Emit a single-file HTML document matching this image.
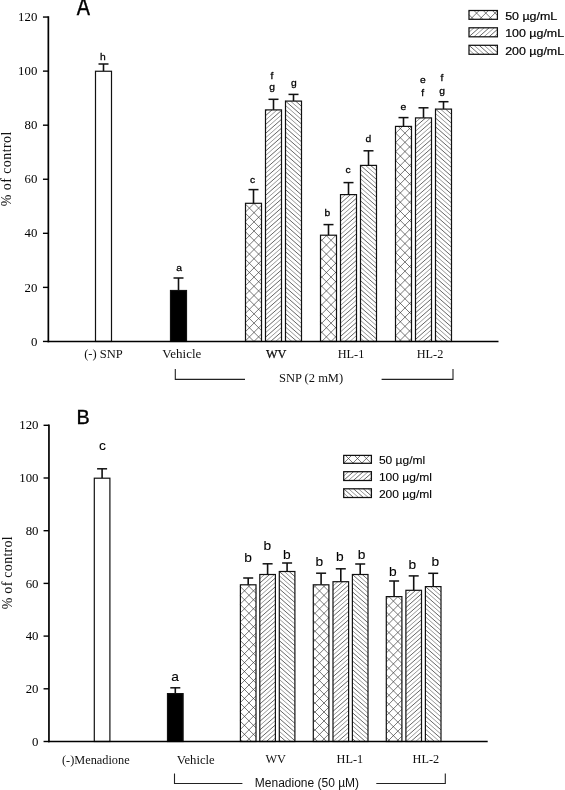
<!DOCTYPE html>
<html lang="en"><head><meta charset="utf-8"><title>Figure</title>
<style>
html,body{margin:0;padding:0;background:#fff;}
body{width:565px;height:790px;overflow:hidden;}
svg{display:block;}
text{white-space:pre;}
</style></head><body>
<svg width="565" height="790" viewBox="0 0 565 790">
<rect width="565" height="790" fill="#fff"/>

<line x1="103.50" y1="71.25" x2="103.50" y2="64.00" stroke="#111" stroke-width="1.6"/>
<line x1="98.50" y1="64.00" x2="108.50" y2="64.00" stroke="#111" stroke-width="1.5"/>
<rect x="95.50" y="71.25" width="16.00" height="270.20" fill="#fff" stroke="#111" stroke-width="1.2"/>
<text transform="translate(102.80,59.50) scale(1.03,0.9)" font-family='"Liberation Sans", Arial, Helvetica, sans-serif' font-size="10" text-anchor="middle" fill="#000" stroke="#000" stroke-width="0.28">h</text>
<line x1="178.50" y1="290.50" x2="178.50" y2="278.00" stroke="#111" stroke-width="1.6"/>
<line x1="173.50" y1="278.00" x2="183.50" y2="278.00" stroke="#111" stroke-width="1.5"/>
<rect x="170.50" y="290.50" width="16.00" height="50.95" fill="#000" stroke="#111" stroke-width="1.2"/>
<text transform="translate(179.00,270.80) scale(1.03,0.9)" font-family='"Liberation Sans", Arial, Helvetica, sans-serif' font-size="10" text-anchor="middle" fill="#000" stroke="#000" stroke-width="0.28">a</text>
<line x1="253.50" y1="203.30" x2="253.50" y2="189.60" stroke="#111" stroke-width="1.6"/>
<line x1="248.50" y1="189.60" x2="258.50" y2="189.60" stroke="#111" stroke-width="1.5"/>
<rect x="245.50" y="203.30" width="16.00" height="138.15" fill="#fff"/>
<path d="M245.5,212.0L254.2,203.3M245.5,221.2L261.5,205.2M245.5,230.4L261.5,214.4M245.5,239.6L261.5,223.6M245.5,248.8L261.5,232.8M245.5,258.0L261.5,242.0M245.5,267.2L261.5,251.2M245.5,276.4L261.5,260.4M245.5,285.6L261.5,269.6M245.5,294.8L261.5,278.8M245.5,304.0L261.5,288.0M245.5,313.2L261.5,297.2M245.5,322.4L261.5,306.4M245.5,331.6L261.5,315.6M245.5,340.8L261.5,324.8M254.0,341.4L261.5,334.0M253.8,203.3L261.5,211.0M245.5,204.2L261.5,220.2M245.5,213.4L261.5,229.4M245.5,222.6L261.5,238.6M245.5,231.8L261.5,247.8M245.5,241.0L261.5,257.0M245.5,250.2L261.5,266.2M245.5,259.4L261.5,275.4M245.5,268.6L261.5,284.6M245.5,277.8L261.5,293.8M245.5,287.0L261.5,303.0M245.5,296.2L261.5,312.2M245.5,305.4L261.5,321.4M245.5,314.6L261.5,330.6M245.5,323.8L261.5,339.8M245.5,333.0L253.9,341.4" stroke="#333" stroke-width="0.66" fill="none"/>
<rect x="245.50" y="203.30" width="16.00" height="138.15" fill="none" stroke="#111" stroke-width="1.2"/>
<text transform="translate(252.50,182.50) scale(1.03,0.9)" font-family='"Liberation Sans", Arial, Helvetica, sans-serif' font-size="10" text-anchor="middle" fill="#000" stroke="#000" stroke-width="0.28">c</text>
<line x1="273.50" y1="109.90" x2="273.50" y2="99.30" stroke="#111" stroke-width="1.6"/>
<line x1="268.50" y1="99.30" x2="278.50" y2="99.30" stroke="#111" stroke-width="1.5"/>
<rect x="265.50" y="109.90" width="16.00" height="231.55" fill="#fff"/>
<path d="M265.5,115.7L272.0,109.9M265.5,124.5L281.5,110.4M265.5,133.4L281.5,119.3M265.5,142.2L281.5,128.2M265.5,151.1L281.5,137.0M265.5,160.0L281.5,145.9M265.5,168.8L281.5,154.7M265.5,177.7L281.5,163.6M265.5,186.5L281.5,172.5M265.5,195.4L281.5,181.3M265.5,204.3L281.5,190.2M265.5,213.1L281.5,199.0M265.5,222.0L281.5,207.9M265.5,230.8L281.5,216.8M265.5,239.7L281.5,225.6M265.5,248.6L281.5,234.5M265.5,257.4L281.5,243.3M265.5,266.3L281.5,252.2M265.5,275.1L281.5,261.1M265.5,284.0L281.5,269.9M265.5,292.9L281.5,278.8M265.5,301.7L281.5,287.6M265.5,310.6L281.5,296.5M265.5,319.4L281.5,305.4M265.5,328.3L281.5,314.2M265.5,337.2L281.5,323.1M270.7,341.4L281.5,331.9M280.8,341.4L281.5,340.8" stroke="#1a1a1a" stroke-width="0.68" fill="none"/>
<path d="M265.5,111.2L267.0,109.9M265.5,120.1L277.1,109.9M265.5,128.9L281.5,114.9M265.5,137.8L281.5,123.7M265.5,146.7L281.5,132.6M265.5,155.5L281.5,141.4M265.5,164.4L281.5,150.3M265.5,173.2L281.5,159.2M265.5,182.1L281.5,168.0M265.5,191.0L281.5,176.9M265.5,199.8L281.5,185.7M265.5,208.7L281.5,194.6M265.5,217.5L281.5,203.5M265.5,226.4L281.5,212.3M265.5,235.3L281.5,221.2M265.5,244.1L281.5,230.0M265.5,253.0L281.5,238.9M265.5,261.8L281.5,247.8M265.5,270.7L281.5,256.6M265.5,279.6L281.5,265.5M265.5,288.4L281.5,274.3M265.5,297.3L281.5,283.2M265.5,306.1L281.5,292.1M265.5,315.0L281.5,300.9M265.5,323.9L281.5,309.8M265.5,332.7L281.5,318.6M265.7,341.4L281.5,327.5M275.7,341.4L281.5,336.4" stroke="#666" stroke-width="0.66" fill="none"/>
<rect x="265.50" y="109.90" width="16.00" height="231.55" fill="none" stroke="#111" stroke-width="1.2"/>
<text transform="translate(272.00,78.60) scale(1.03,0.9)" font-family='"Liberation Sans", Arial, Helvetica, sans-serif' font-size="10" text-anchor="middle" fill="#000" stroke="#000" stroke-width="0.28">f</text>
<text transform="translate(272.00,90.20) scale(1.03,0.9)" font-family='"Liberation Sans", Arial, Helvetica, sans-serif' font-size="10" text-anchor="middle" fill="#000" stroke="#000" stroke-width="0.28">g</text>
<line x1="293.50" y1="101.10" x2="293.50" y2="94.40" stroke="#111" stroke-width="1.6"/>
<line x1="288.50" y1="94.40" x2="298.50" y2="94.40" stroke="#111" stroke-width="1.5"/>
<rect x="285.50" y="101.10" width="16.00" height="240.35" fill="#fff"/>
<path d="M295.6,101.1L301.5,106.3M285.5,101.1L301.5,115.2M285.5,110.0L301.5,124.0M285.5,118.8L301.5,132.9M285.5,127.7L301.5,141.8M285.5,136.5L301.5,150.6M285.5,145.4L301.5,159.5M285.5,154.3L301.5,168.3M285.5,163.1L301.5,177.2M285.5,172.0L301.5,186.1M285.5,180.8L301.5,194.9M285.5,189.7L301.5,203.8M285.5,198.6L301.5,212.6M285.5,207.4L301.5,221.5M285.5,216.3L301.5,230.4M285.5,225.1L301.5,239.2M285.5,234.0L301.5,248.1M285.5,242.9L301.5,256.9M285.5,251.7L301.5,265.8M285.5,260.6L301.5,274.7M285.5,269.4L301.5,283.5M285.5,278.3L301.5,292.4M285.5,287.2L301.5,301.2M285.5,296.0L301.5,310.1M285.5,304.9L301.5,319.0M285.5,313.7L301.5,327.8M285.5,322.6L301.5,336.7M285.5,331.5L296.9,341.4M285.5,340.3L286.8,341.4" stroke="#1a1a1a" stroke-width="0.68" fill="none"/>
<path d="M300.6,101.1L301.5,101.9M290.5,101.1L301.5,110.7M285.5,105.5L301.5,119.6M285.5,114.4L301.5,128.5M285.5,123.2L301.5,137.3M285.5,132.1L301.5,146.2M285.5,141.0L301.5,155.0M285.5,149.8L301.5,163.9M285.5,158.7L301.5,172.8M285.5,167.5L301.5,181.6M285.5,176.4L301.5,190.5M285.5,185.3L301.5,199.3M285.5,194.1L301.5,208.2M285.5,203.0L301.5,217.1M285.5,211.8L301.5,225.9M285.5,220.7L301.5,234.8M285.5,229.6L301.5,243.6M285.5,238.4L301.5,252.5M285.5,247.3L301.5,261.4M285.5,256.1L301.5,270.2M285.5,265.0L301.5,279.1M285.5,273.9L301.5,287.9M285.5,282.7L301.5,296.8M285.5,291.6L301.5,305.7M285.5,300.4L301.5,314.5M285.5,309.3L301.5,323.4M285.5,318.2L301.5,332.2M285.5,327.0L301.5,341.1M285.5,335.9L291.8,341.4" stroke="#666" stroke-width="0.66" fill="none"/>
<rect x="285.50" y="101.10" width="16.00" height="240.35" fill="none" stroke="#111" stroke-width="1.2"/>
<text transform="translate(293.80,86.00) scale(1.03,0.9)" font-family='"Liberation Sans", Arial, Helvetica, sans-serif' font-size="10" text-anchor="middle" fill="#000" stroke="#000" stroke-width="0.28">g</text>
<line x1="328.50" y1="235.20" x2="328.50" y2="224.60" stroke="#111" stroke-width="1.6"/>
<line x1="323.50" y1="224.60" x2="333.50" y2="224.60" stroke="#111" stroke-width="1.5"/>
<rect x="320.50" y="235.20" width="16.00" height="106.25" fill="#fff"/>
<path d="M320.5,241.6L326.9,235.2M320.5,250.8L336.1,235.2M320.5,260.0L336.5,244.0M320.5,269.2L336.5,253.2M320.5,278.4L336.5,262.4M320.5,287.6L336.5,271.6M320.5,296.8L336.5,280.8M320.5,306.0L336.5,290.0M320.5,315.2L336.5,299.2M320.5,324.4L336.5,308.4M320.5,333.6L336.5,317.6M321.8,341.4L336.5,326.8M331.1,341.4L336.5,336.0M335.1,235.2L336.5,236.6M325.9,235.2L336.5,245.8M320.5,239.0L336.5,255.0M320.5,248.2L336.5,264.2M320.5,257.4L336.5,273.4M320.5,266.6L336.5,282.6M320.5,275.8L336.5,291.8M320.5,285.0L336.5,301.0M320.5,294.2L336.5,310.2M320.5,303.4L336.5,319.4M320.5,312.6L336.5,328.6M320.5,321.8L336.5,337.8M320.5,331.0L330.9,341.4M320.5,340.2L321.8,341.4" stroke="#333" stroke-width="0.66" fill="none"/>
<rect x="320.50" y="235.20" width="16.00" height="106.25" fill="none" stroke="#111" stroke-width="1.2"/>
<text transform="translate(327.30,215.80) scale(1.03,0.9)" font-family='"Liberation Sans", Arial, Helvetica, sans-serif' font-size="10" text-anchor="middle" fill="#000" stroke="#000" stroke-width="0.28">b</text>
<line x1="348.50" y1="194.60" x2="348.50" y2="182.60" stroke="#111" stroke-width="1.6"/>
<line x1="343.50" y1="182.60" x2="353.50" y2="182.60" stroke="#111" stroke-width="1.5"/>
<rect x="340.50" y="194.60" width="16.00" height="146.85" fill="#fff"/>
<path d="M340.5,203.5L350.6,194.6M340.5,212.3L356.5,198.2M340.5,221.2L356.5,207.1M340.5,230.0L356.5,216.0M340.5,238.9L356.5,224.8M340.5,247.8L356.5,233.7M340.5,256.6L356.5,242.5M340.5,265.5L356.5,251.4M340.5,274.3L356.5,260.3M340.5,283.2L356.5,269.1M340.5,292.1L356.5,278.0M340.5,300.9L356.5,286.8M340.5,309.8L356.5,295.7M340.5,318.6L356.5,304.6M340.5,327.5L356.5,313.4M340.5,336.4L356.5,322.3M344.8,341.5L356.5,331.1M354.9,341.5L356.5,340.0" stroke="#1a1a1a" stroke-width="0.68" fill="none"/>
<path d="M340.5,199.0L345.5,194.6M340.5,207.9L355.6,194.6M340.5,216.8L356.5,202.7M340.5,225.6L356.5,211.5M340.5,234.5L356.5,220.4M340.5,243.3L356.5,229.2M340.5,252.2L356.5,238.1M340.5,261.1L356.5,247.0M340.5,269.9L356.5,255.8M340.5,278.8L356.5,264.7M340.5,287.6L356.5,273.5M340.5,296.5L356.5,282.4M340.5,305.4L356.5,291.3M340.5,314.2L356.5,300.1M340.5,323.1L356.5,309.0M340.5,331.9L356.5,317.8M340.5,340.8L356.5,326.7M349.8,341.5L356.5,335.6" stroke="#666" stroke-width="0.66" fill="none"/>
<rect x="340.50" y="194.60" width="16.00" height="146.85" fill="none" stroke="#111" stroke-width="1.2"/>
<text transform="translate(348.00,172.80) scale(1.03,0.9)" font-family='"Liberation Sans", Arial, Helvetica, sans-serif' font-size="10" text-anchor="middle" fill="#000" stroke="#000" stroke-width="0.28">c</text>
<line x1="368.50" y1="165.40" x2="368.50" y2="150.80" stroke="#111" stroke-width="1.6"/>
<line x1="363.50" y1="150.80" x2="373.50" y2="150.80" stroke="#111" stroke-width="1.5"/>
<rect x="360.50" y="165.40" width="16.00" height="176.05" fill="#fff"/>
<path d="M370.6,165.4L376.5,170.6M360.5,165.4L376.5,179.5M360.5,174.3L376.5,188.3M360.5,183.1L376.5,197.2M360.5,192.0L376.5,206.1M360.5,200.8L376.5,214.9M360.5,209.7L376.5,223.8M360.5,218.6L376.5,232.6M360.5,227.4L376.5,241.5M360.5,236.3L376.5,250.4M360.5,245.1L376.5,259.2M360.5,254.0L376.5,268.1M360.5,262.9L376.5,276.9M360.5,271.7L376.5,285.8M360.5,280.6L376.5,294.7M360.5,289.4L376.5,303.5M360.5,298.3L376.5,312.4M360.5,307.2L376.5,321.2M360.5,316.0L376.5,330.1M360.5,324.9L376.5,339.0M360.5,333.7L369.3,341.5" stroke="#1a1a1a" stroke-width="0.68" fill="none"/>
<path d="M375.6,165.4L376.5,166.2M365.5,165.4L376.5,175.0M360.5,169.8L376.5,183.9M360.5,178.7L376.5,192.8M360.5,187.6L376.5,201.6M360.5,196.4L376.5,210.5M360.5,205.3L376.5,219.3M360.5,214.1L376.5,228.2M360.5,223.0L376.5,237.1M360.5,231.8L376.5,245.9M360.5,240.7L376.5,254.8M360.5,249.6L376.5,263.6M360.5,258.4L376.5,272.5M360.5,267.3L376.5,281.4M360.5,276.1L376.5,290.2M360.5,285.0L376.5,299.1M360.5,293.9L376.5,307.9M360.5,302.7L376.5,316.8M360.5,311.6L376.5,325.7M360.5,320.4L376.5,334.5M360.5,329.3L374.3,341.4M360.5,338.2L364.2,341.4" stroke="#666" stroke-width="0.66" fill="none"/>
<rect x="360.50" y="165.40" width="16.00" height="176.05" fill="none" stroke="#111" stroke-width="1.2"/>
<text transform="translate(368.40,141.50) scale(1.03,0.9)" font-family='"Liberation Sans", Arial, Helvetica, sans-serif' font-size="10" text-anchor="middle" fill="#000" stroke="#000" stroke-width="0.28">d</text>
<line x1="403.50" y1="126.40" x2="403.50" y2="117.60" stroke="#111" stroke-width="1.6"/>
<line x1="398.50" y1="117.60" x2="408.50" y2="117.60" stroke="#111" stroke-width="1.5"/>
<rect x="395.50" y="126.40" width="16.00" height="215.05" fill="#fff"/>
<path d="M395.5,133.4L402.5,126.4M395.5,142.6L411.5,126.6M395.5,151.8L411.5,135.8M395.5,161.0L411.5,145.0M395.5,170.2L411.5,154.2M395.5,179.4L411.5,163.4M395.5,188.6L411.5,172.6M395.5,197.8L411.5,181.8M395.5,207.0L411.5,191.0M395.5,216.2L411.5,200.2M395.5,225.4L411.5,209.4M395.5,234.6L411.5,218.6M395.5,243.8L411.5,227.8M395.5,253.0L411.5,237.0M395.5,262.2L411.5,246.2M395.5,271.4L411.5,255.4M395.5,280.6L411.5,264.6M395.5,289.8L411.5,273.8M395.5,299.0L411.5,283.0M395.5,308.2L411.5,292.2M395.5,317.4L411.5,301.4M395.5,326.6L411.5,310.6M395.5,335.8L411.5,319.8M399.1,341.4L411.5,329.0M408.3,341.4L411.5,338.2M407.4,126.4L411.5,130.5M398.2,126.4L411.5,139.7M395.5,132.9L411.5,148.9M395.5,142.1L411.5,158.1M395.5,151.3L411.5,167.3M395.5,160.5L411.5,176.5M395.5,169.7L411.5,185.7M395.5,178.9L411.5,194.9M395.5,188.1L411.5,204.1M395.5,197.3L411.5,213.3M395.5,206.5L411.5,222.5M395.5,215.7L411.5,231.7M395.5,224.9L411.5,240.9M395.5,234.1L411.5,250.1M395.5,243.3L411.5,259.3M395.5,252.5L411.5,268.5M395.5,261.7L411.5,277.7M395.5,270.9L411.5,286.9M395.5,280.1L411.5,296.1M395.5,289.3L411.5,305.3M395.5,298.5L411.5,314.5M395.5,307.7L411.5,323.7M395.5,316.9L411.5,332.9M395.5,326.1L410.9,341.4M395.5,335.3L401.7,341.4" stroke="#333" stroke-width="0.66" fill="none"/>
<rect x="395.50" y="126.40" width="16.00" height="215.05" fill="none" stroke="#111" stroke-width="1.2"/>
<text transform="translate(403.40,109.60) scale(1.03,0.9)" font-family='"Liberation Sans", Arial, Helvetica, sans-serif' font-size="10" text-anchor="middle" fill="#000" stroke="#000" stroke-width="0.28">e</text>
<line x1="423.50" y1="117.90" x2="423.50" y2="107.80" stroke="#111" stroke-width="1.6"/>
<line x1="418.50" y1="107.80" x2="428.50" y2="107.80" stroke="#111" stroke-width="1.5"/>
<rect x="415.50" y="117.90" width="16.00" height="223.55" fill="#fff"/>
<path d="M415.5,126.8L425.6,117.9M415.5,135.6L431.5,121.5M415.5,144.5L431.5,130.4M415.5,153.3L431.5,139.3M415.5,162.2L431.5,148.1M415.5,171.1L431.5,157.0M415.5,179.9L431.5,165.8M415.5,188.8L431.5,174.7M415.5,197.6L431.5,183.6M415.5,206.5L431.5,192.4M415.5,215.4L431.5,201.3M415.5,224.2L431.5,210.1M415.5,233.1L431.5,219.0M415.5,241.9L431.5,227.9M415.5,250.8L431.5,236.7M415.5,259.7L431.5,245.6M415.5,268.5L431.5,254.4M415.5,277.4L431.5,263.3M415.5,286.2L431.5,272.2M415.5,295.1L431.5,281.0M415.5,304.0L431.5,289.9M415.5,312.8L431.5,298.7M415.5,321.7L431.5,307.6M415.5,330.5L431.5,316.5M415.5,339.4L431.5,325.3M423.2,341.4L431.5,334.2" stroke="#1a1a1a" stroke-width="0.68" fill="none"/>
<path d="M415.5,122.3L420.5,117.9M415.5,131.2L430.6,117.9M415.5,140.0L431.5,126.0M415.5,148.9L431.5,134.8M415.5,157.8L431.5,143.7M415.5,166.6L431.5,152.5M415.5,175.5L431.5,161.4M415.5,184.4L431.5,170.3M415.5,193.2L431.5,179.1M415.5,202.1L431.5,188.0M415.5,210.9L431.5,196.8M415.5,219.8L431.5,205.7M415.5,228.6L431.5,214.6M415.5,237.5L431.5,223.4M415.5,246.4L431.5,232.3M415.5,255.2L431.5,241.1M415.5,264.1L431.5,250.0M415.5,272.9L431.5,258.9M415.5,281.8L431.5,267.7M415.5,290.7L431.5,276.6M415.5,299.5L431.5,285.4M415.5,308.4L431.5,294.3M415.5,317.2L431.5,303.2M415.5,326.1L431.5,312.0M415.5,335.0L431.5,320.9M418.2,341.4L431.5,329.7M428.3,341.4L431.5,338.6" stroke="#666" stroke-width="0.66" fill="none"/>
<rect x="415.50" y="117.90" width="16.00" height="223.55" fill="none" stroke="#111" stroke-width="1.2"/>
<text transform="translate(422.80,82.60) scale(1.03,0.9)" font-family='"Liberation Sans", Arial, Helvetica, sans-serif' font-size="10" text-anchor="middle" fill="#000" stroke="#000" stroke-width="0.28">e</text>
<text transform="translate(422.80,95.80) scale(1.03,0.9)" font-family='"Liberation Sans", Arial, Helvetica, sans-serif' font-size="10" text-anchor="middle" fill="#000" stroke="#000" stroke-width="0.28">f</text>
<line x1="443.50" y1="109.10" x2="443.50" y2="101.70" stroke="#111" stroke-width="1.6"/>
<line x1="438.50" y1="101.70" x2="448.50" y2="101.70" stroke="#111" stroke-width="1.5"/>
<rect x="435.50" y="109.10" width="16.00" height="232.35" fill="#fff"/>
<path d="M445.6,109.1L451.5,114.3M435.5,109.1L451.5,123.2M435.5,118.0L451.5,132.0M435.5,126.8L451.5,140.9M435.5,135.7L451.5,149.8M435.5,144.5L451.5,158.6M435.5,153.4L451.5,167.5M435.5,162.3L451.5,176.3M435.5,171.1L451.5,185.2M435.5,180.0L451.5,194.1M435.5,188.8L451.5,202.9M435.5,197.7L451.5,211.8M435.5,206.6L451.5,220.6M435.5,215.4L451.5,229.5M435.5,224.3L451.5,238.4M435.5,233.1L451.5,247.2M435.5,242.0L451.5,256.1M435.5,250.9L451.5,264.9M435.5,259.7L451.5,273.8M435.5,268.6L451.5,282.7M435.5,277.4L451.5,291.5M435.5,286.3L451.5,300.4M435.5,295.2L451.5,309.2M435.5,304.0L451.5,318.1M435.5,312.9L451.5,327.0M435.5,321.7L451.5,335.8M435.5,330.6L447.8,341.4M435.5,339.5L437.8,341.5" stroke="#1a1a1a" stroke-width="0.68" fill="none"/>
<path d="M450.6,109.1L451.5,109.9M440.5,109.1L451.5,118.8M435.5,113.5L451.5,127.6M435.5,122.4L451.5,136.5M435.5,131.3L451.5,145.3M435.5,140.1L451.5,154.2M435.5,149.0L451.5,163.1M435.5,157.8L451.5,171.9M435.5,166.7L451.5,180.8M435.5,175.6L451.5,189.6M435.5,184.4L451.5,198.5M435.5,193.3L451.5,207.3M435.5,202.1L451.5,216.2M435.5,211.0L451.5,225.1M435.5,219.9L451.5,233.9M435.5,228.7L451.5,242.8M435.5,237.6L451.5,251.7M435.5,246.4L451.5,260.5M435.5,255.3L451.5,269.4M435.5,264.1L451.5,278.2M435.5,273.0L451.5,287.1M435.5,281.9L451.5,295.9M435.5,290.7L451.5,304.8M435.5,299.6L451.5,313.7M435.5,308.5L451.5,322.5M435.5,317.3L451.5,331.4M435.5,326.2L451.5,340.2M435.5,335.0L442.8,341.4" stroke="#666" stroke-width="0.66" fill="none"/>
<rect x="435.50" y="109.10" width="16.00" height="232.35" fill="none" stroke="#111" stroke-width="1.2"/>
<text transform="translate(442.00,81.20) scale(1.03,0.9)" font-family='"Liberation Sans", Arial, Helvetica, sans-serif' font-size="10" text-anchor="middle" fill="#000" stroke="#000" stroke-width="0.28">f</text>
<text transform="translate(442.00,94.00) scale(1.03,0.9)" font-family='"Liberation Sans", Arial, Helvetica, sans-serif' font-size="10" text-anchor="middle" fill="#000" stroke="#000" stroke-width="0.28">g</text>
<line x1="48.35" y1="16.35" x2="48.35" y2="342.15" stroke="#000" stroke-width="1.7"/>
<line x1="47.65" y1="341.45" x2="498.5" y2="341.45" stroke="#000" stroke-width="1.5"/>
<line x1="42.95" y1="341.45" x2="48.35" y2="341.45" stroke="#000" stroke-width="1.4"/>
<text x="37.3" y="345.60" font-family='"Liberation Serif", "Times New Roman", Times, serif' font-size="12.8" text-anchor="end" fill="#000">0</text>
<line x1="42.95" y1="287.38" x2="48.35" y2="287.38" stroke="#000" stroke-width="1.4"/>
<text x="37.3" y="291.53" font-family='"Liberation Serif", "Times New Roman", Times, serif' font-size="12.8" text-anchor="end" fill="#000">20</text>
<line x1="42.95" y1="233.32" x2="48.35" y2="233.32" stroke="#000" stroke-width="1.4"/>
<text x="37.3" y="237.47" font-family='"Liberation Serif", "Times New Roman", Times, serif' font-size="12.8" text-anchor="end" fill="#000">40</text>
<line x1="42.95" y1="179.25" x2="48.35" y2="179.25" stroke="#000" stroke-width="1.4"/>
<text x="37.3" y="183.40" font-family='"Liberation Serif", "Times New Roman", Times, serif' font-size="12.8" text-anchor="end" fill="#000">60</text>
<line x1="42.95" y1="125.19" x2="48.35" y2="125.19" stroke="#000" stroke-width="1.4"/>
<text x="37.3" y="129.34" font-family='"Liberation Serif", "Times New Roman", Times, serif' font-size="12.8" text-anchor="end" fill="#000">80</text>
<line x1="42.95" y1="71.12" x2="48.35" y2="71.12" stroke="#000" stroke-width="1.4"/>
<text x="37.3" y="75.27" font-family='"Liberation Serif", "Times New Roman", Times, serif' font-size="12.8" text-anchor="end" fill="#000">100</text>
<line x1="42.95" y1="17.05" x2="48.35" y2="17.05" stroke="#000" stroke-width="1.4"/>
<text x="37.3" y="21.20" font-family='"Liberation Serif", "Times New Roman", Times, serif' font-size="12.8" text-anchor="end" fill="#000">120</text>
<text transform="translate(11.3,168.7) rotate(-90)" font-family='"Liberation Serif", "Times New Roman", Times, serif' font-size="14" text-anchor="middle" letter-spacing="0.42" fill="#111">% of control</text>
<text transform="translate(76.7,14.5) scale(1,1.22)" font-family='"Liberation Sans", Arial, Helvetica, sans-serif' font-size="19.8" fill="#000" stroke="#000" stroke-width="0.35">A</text>
<text x="84.20" y="358.00" font-family='"Liberation Serif", "Times New Roman", Times, serif' font-size="12.5" fill="#111" >(-) SNP</text>
<text x="162.30" y="357.90" font-family='"Liberation Serif", "Times New Roman", Times, serif' font-size="13" fill="#111" >Vehicle</text>
<text x="266.00" y="357.60" font-family='"Liberation Serif", "Times New Roman", Times, serif' font-size="12.3" fill="#111" stroke="#000" stroke-width="0.25">WV</text>
<text x="337.70" y="357.70" font-family='"Liberation Serif", "Times New Roman", Times, serif' font-size="12.3" fill="#111" >HL-1</text>
<text x="416.70" y="357.70" font-family='"Liberation Serif", "Times New Roman", Times, serif' font-size="12.3" fill="#111" >HL-2</text>
<polyline points="175.3,369 175.3,379.4 245,379.4" fill="none" stroke="#222" stroke-width="1.1"/>
<polyline points="381.6,379.4 453,379.4 453,369" fill="none" stroke="#222" stroke-width="1.1"/>
<text x="279" y="381.9" font-family='"Liberation Serif", "Times New Roman", Times, serif' font-size="12.5" fill="#111">SNP (2 mM)</text>
<rect x="469" y="10.5" width="28.4" height="8.8" fill="#fff"/>
<path d="M469.0,11.5L470.0,10.5M470.4,19.3L479.2,10.5M479.6,19.3L488.4,10.5M488.8,19.3L497.4,10.7M492.4,10.5L497.4,15.5M483.2,10.5L492.0,19.3M474.0,10.5L482.8,19.3M469.0,14.7L473.6,19.3" stroke="#333" stroke-width="0.66" fill="none"/>
<rect x="469" y="10.5" width="28.4" height="8.8" fill="none" stroke="#111" stroke-width="1.25"/>
<text transform="translate(505.2,19.9) scale(1.1,1)" font-family='"Liberation Sans", Arial, Helvetica, sans-serif' font-size="11.3" fill="#000" stroke="#000" stroke-width="0.2">50 µg/mL</text>
<rect x="469" y="27.8" width="28.4" height="9" fill="#fff"/>
<path d="M469.0,36.7L479.1,27.8M478.9,36.8L489.1,27.8M489.0,36.8L497.4,29.4" stroke="#1a1a1a" stroke-width="0.68" fill="none"/>
<path d="M469.0,32.2L474.0,27.8M473.9,36.8L484.1,27.8M483.9,36.8L494.2,27.8M494.0,36.8L497.4,33.8" stroke="#666" stroke-width="0.66" fill="none"/>
<rect x="469" y="27.8" width="28.4" height="9" fill="none" stroke="#111" stroke-width="1.25"/>
<text transform="translate(505.2,37.1) scale(1.1,1)" font-family='"Liberation Sans", Arial, Helvetica, sans-serif' font-size="11.3" fill="#000" stroke="#000" stroke-width="0.2">100 µg/mL</text>
<rect x="469" y="45.3" width="28.4" height="9" fill="#fff"/>
<path d="M489.1,45.3L497.4,52.6M479.1,45.3L489.3,54.3M469.0,45.3L479.2,54.3" stroke="#1a1a1a" stroke-width="0.68" fill="none"/>
<path d="M494.2,45.3L497.4,48.1M484.1,45.3L494.3,54.3M474.0,45.3L484.3,54.3M469.0,49.7L474.2,54.3" stroke="#666" stroke-width="0.66" fill="none"/>
<rect x="469" y="45.3" width="28.4" height="9" fill="none" stroke="#111" stroke-width="1.25"/>
<text transform="translate(505.2,54.5) scale(1.1,1)" font-family='"Liberation Sans", Arial, Helvetica, sans-serif' font-size="11.3" fill="#000" stroke="#000" stroke-width="0.2">200 µg/mL</text>
<line x1="102.10" y1="478.20" x2="102.10" y2="468.80" stroke="#111" stroke-width="1.6"/>
<line x1="97.10" y1="468.80" x2="107.10" y2="468.80" stroke="#111" stroke-width="1.5"/>
<rect x="94.30" y="478.20" width="15.60" height="263.30" fill="#fff" stroke="#111" stroke-width="1.2"/>
<text transform="translate(102.50,449.50) scale(1.06,1)" font-family='"Liberation Sans", Arial, Helvetica, sans-serif' font-size="13" text-anchor="middle" fill="#000" stroke="#000" stroke-width="0.1">c</text>
<line x1="175.30" y1="693.60" x2="175.30" y2="687.80" stroke="#111" stroke-width="1.6"/>
<line x1="170.30" y1="687.80" x2="180.30" y2="687.80" stroke="#111" stroke-width="1.5"/>
<rect x="167.50" y="693.60" width="15.60" height="47.90" fill="#000" stroke="#111" stroke-width="1.2"/>
<text transform="translate(175.20,680.50) scale(1.06,1)" font-family='"Liberation Sans", Arial, Helvetica, sans-serif' font-size="13" text-anchor="middle" fill="#000" stroke="#000" stroke-width="0.1">a</text>
<line x1="248.20" y1="584.80" x2="248.20" y2="578.00" stroke="#111" stroke-width="1.6"/>
<line x1="243.20" y1="578.00" x2="253.20" y2="578.00" stroke="#111" stroke-width="1.5"/>
<rect x="240.40" y="584.80" width="15.60" height="156.70" fill="#fff"/>
<path d="M240.4,585.9L241.5,584.8M240.4,594.9L250.5,584.8M240.4,603.9L256.0,588.3M240.4,612.8L256.0,597.2M240.4,621.8L256.0,606.2M240.4,630.8L256.0,615.2M240.4,639.7L256.0,624.1M240.4,648.7L256.0,633.1M240.4,657.7L256.0,642.1M240.4,666.7L256.0,651.1M240.4,675.6L256.0,660.0M240.4,684.6L256.0,669.0M240.4,693.6L256.0,678.0M240.4,702.5L256.0,686.9M240.4,711.5L256.0,695.9M240.4,720.5L256.0,704.9M240.4,729.4L256.0,713.8M240.4,738.4L256.0,722.8M246.3,741.5L256.0,731.8M255.2,741.5L256.0,740.8M247.4,584.8L256.0,593.4M240.4,586.7L256.0,602.3M240.4,595.7L256.0,611.3M240.4,604.7L256.0,620.3M240.4,613.6L256.0,629.2M240.4,622.6L256.0,638.2M240.4,631.6L256.0,647.2M240.4,640.6L256.0,656.2M240.4,649.5L256.0,665.1M240.4,658.5L256.0,674.1M240.4,667.5L256.0,683.1M240.4,676.4L256.0,692.0M240.4,685.4L256.0,701.0M240.4,694.4L256.0,710.0M240.4,703.4L256.0,719.0M240.4,712.3L256.0,727.9M240.4,721.3L256.0,736.9M240.4,730.3L251.6,741.5M240.4,739.2L242.7,741.5" stroke="#333" stroke-width="0.66" fill="none"/>
<rect x="240.40" y="584.80" width="15.60" height="156.70" fill="none" stroke="#111" stroke-width="1.2"/>
<text transform="translate(248.10,562.00) scale(1.06,1)" font-family='"Liberation Sans", Arial, Helvetica, sans-serif' font-size="13" text-anchor="middle" fill="#000" stroke="#000" stroke-width="0.1">b</text>
<line x1="267.60" y1="574.50" x2="267.60" y2="563.80" stroke="#111" stroke-width="1.6"/>
<line x1="262.60" y1="563.80" x2="272.60" y2="563.80" stroke="#111" stroke-width="1.5"/>
<rect x="259.80" y="574.50" width="15.60" height="167.00" fill="#fff"/>
<path d="M259.8,583.1L269.6,574.5M259.8,591.8L275.4,578.0M259.8,600.4L275.4,586.7M259.8,609.1L275.4,595.3M259.8,617.7L275.4,604.0M259.8,626.3L275.4,612.6M259.8,635.0L275.4,621.2M259.8,643.6L275.4,629.9M259.8,652.2L275.4,638.5M259.8,660.9L275.4,647.2M259.8,669.5L275.4,655.8M259.8,678.2L275.4,664.4M259.8,686.8L275.4,673.1M259.8,695.4L275.4,681.7M259.8,704.1L275.4,690.3M259.8,712.7L275.4,699.0M259.8,721.4L275.4,707.6M259.8,730.0L275.4,716.3M259.8,738.6L275.4,724.9M266.4,741.5L275.4,733.5" stroke="#1a1a1a" stroke-width="0.68" fill="none"/>
<path d="M259.8,578.8L264.7,574.5M259.8,587.5L274.5,574.5M259.8,596.1L275.4,582.4M259.8,604.7L275.4,591.0M259.8,613.4L275.4,599.6M259.8,622.0L275.4,608.3M259.8,630.7L275.4,616.9M259.8,639.3L275.4,625.6M259.8,647.9L275.4,634.2M259.8,656.6L275.4,642.8M259.8,665.2L275.4,651.5M259.8,673.8L275.4,660.1M259.8,682.5L275.4,668.8M259.8,691.1L275.4,677.4M259.8,699.8L275.4,686.0M259.8,708.4L275.4,694.7M259.8,717.0L275.4,703.3M259.8,725.7L275.4,711.9M259.8,734.3L275.4,720.6M261.4,741.5L275.4,729.2M271.3,741.5L275.4,737.9" stroke="#666" stroke-width="0.66" fill="none"/>
<rect x="259.80" y="574.50" width="15.60" height="167.00" fill="none" stroke="#111" stroke-width="1.2"/>
<text transform="translate(267.40,549.70) scale(1.06,1)" font-family='"Liberation Sans", Arial, Helvetica, sans-serif' font-size="13" text-anchor="middle" fill="#000" stroke="#000" stroke-width="0.1">b</text>
<line x1="287.10" y1="571.50" x2="287.10" y2="563.00" stroke="#111" stroke-width="1.6"/>
<line x1="282.10" y1="563.00" x2="292.10" y2="563.00" stroke="#111" stroke-width="1.5"/>
<rect x="279.30" y="571.50" width="15.60" height="170.00" fill="#fff"/>
<path d="M289.1,571.5L294.9,576.6M279.3,571.5L294.9,585.2M279.3,580.1L294.9,593.9M279.3,588.8L294.9,602.5M279.3,597.4L294.9,611.1M279.3,606.1L294.9,619.8M279.3,614.7L294.9,628.4M279.3,623.3L294.9,637.1M279.3,632.0L294.9,645.7M279.3,640.6L294.9,654.3M279.3,649.2L294.9,663.0M279.3,657.9L294.9,671.6M279.3,666.5L294.9,680.3M279.3,675.2L294.9,688.9M279.3,683.8L294.9,697.5M279.3,692.4L294.9,706.2M279.3,701.1L294.9,714.8M279.3,709.7L294.9,723.4M279.3,718.4L294.9,732.1M279.3,727.0L294.9,740.7M279.3,735.6L286.0,741.5" stroke="#1a1a1a" stroke-width="0.68" fill="none"/>
<path d="M294.0,571.5L294.9,572.3M284.2,571.5L294.9,580.9M279.3,575.8L294.9,589.5M279.3,584.5L294.9,598.2M279.3,593.1L294.9,606.8M279.3,601.7L294.9,615.5M279.3,610.4L294.9,624.1M279.3,619.0L294.9,632.7M279.3,627.7L294.9,641.4M279.3,636.3L294.9,650.0M279.3,644.9L294.9,658.7M279.3,653.6L294.9,667.3M279.3,662.2L294.9,675.9M279.3,670.8L294.9,684.6M279.3,679.5L294.9,693.2M279.3,688.1L294.9,701.8M279.3,696.8L294.9,710.5M279.3,705.4L294.9,719.1M279.3,714.0L294.9,727.8M279.3,722.7L294.9,736.4M279.3,731.3L290.9,741.5M279.3,740.0L281.1,741.5" stroke="#666" stroke-width="0.66" fill="none"/>
<rect x="279.30" y="571.50" width="15.60" height="170.00" fill="none" stroke="#111" stroke-width="1.2"/>
<text transform="translate(286.90,558.90) scale(1.06,1)" font-family='"Liberation Sans", Arial, Helvetica, sans-serif' font-size="13" text-anchor="middle" fill="#000" stroke="#000" stroke-width="0.1">b</text>
<line x1="321.10" y1="584.80" x2="321.10" y2="573.20" stroke="#111" stroke-width="1.6"/>
<line x1="316.10" y1="573.20" x2="326.10" y2="573.20" stroke="#111" stroke-width="1.5"/>
<rect x="313.30" y="584.80" width="15.60" height="156.70" fill="#fff"/>
<path d="M313.3,588.1L316.6,584.8M313.3,597.1L325.6,584.8M313.3,606.1L328.9,590.5M313.3,615.0L328.9,599.5M313.3,624.0L328.9,608.4M313.3,633.0L328.9,617.4M313.3,642.0L328.9,626.4M313.3,650.9L328.9,635.3M313.3,659.9L328.9,644.3M313.3,668.9L328.9,653.3M313.3,677.8L328.9,662.2M313.3,686.8L328.9,671.2M313.3,695.8L328.9,680.2M313.3,704.8L328.9,689.2M313.3,713.7L328.9,698.1M313.3,722.7L328.9,707.1M313.3,731.7L328.9,716.1M313.3,740.6L328.9,725.0M321.4,741.5L328.9,734.0M322.4,584.8L328.9,591.3M313.4,584.8L328.9,600.3M313.3,593.7L328.9,609.2M313.3,602.6L328.9,618.2M313.3,611.6L328.9,627.2M313.3,620.6L328.9,636.2M313.3,629.5L328.9,645.1M313.3,638.5L328.9,654.1M313.3,647.5L328.9,663.1M313.3,656.4L328.9,672.0M313.3,665.4L328.9,681.0M313.3,674.4L328.9,690.0M313.3,683.4L328.9,699.0M313.3,692.3L328.9,707.9M313.3,701.3L328.9,716.9M313.3,710.3L328.9,725.9M313.3,719.2L328.9,734.8M313.3,728.2L326.6,741.5M313.3,737.2L317.6,741.5" stroke="#333" stroke-width="0.66" fill="none"/>
<rect x="313.30" y="584.80" width="15.60" height="156.70" fill="none" stroke="#111" stroke-width="1.2"/>
<text transform="translate(319.30,566.00) scale(1.06,1)" font-family='"Liberation Sans", Arial, Helvetica, sans-serif' font-size="13" text-anchor="middle" fill="#000" stroke="#000" stroke-width="0.1">b</text>
<line x1="340.80" y1="581.70" x2="340.80" y2="568.80" stroke="#111" stroke-width="1.6"/>
<line x1="335.80" y1="568.80" x2="345.80" y2="568.80" stroke="#111" stroke-width="1.5"/>
<rect x="333.00" y="581.70" width="15.60" height="159.80" fill="#fff"/>
<path d="M333.0,590.3L342.8,581.7M333.0,599.0L348.6,585.2M333.0,607.6L348.6,593.9M333.0,616.3L348.6,602.5M333.0,624.9L348.6,611.2M333.0,633.5L348.6,619.8M333.0,642.2L348.6,628.4M333.0,650.8L348.6,637.1M333.0,659.4L348.6,645.7M333.0,668.1L348.6,654.4M333.0,676.7L348.6,663.0M333.0,685.4L348.6,671.6M333.0,694.0L348.6,680.3M333.0,702.6L348.6,688.9M333.0,711.3L348.6,697.5M333.0,719.9L348.6,706.2M333.0,728.6L348.6,714.8M333.0,737.2L348.6,723.5M337.9,741.5L348.6,732.1M347.7,741.5L348.6,740.7" stroke="#1a1a1a" stroke-width="0.68" fill="none"/>
<path d="M333.0,586.0L337.9,581.7M333.0,594.7L347.7,581.7M333.0,603.3L348.6,589.6M333.0,611.9L348.6,598.2M333.0,620.6L348.6,606.8M333.0,629.2L348.6,615.5M333.0,637.9L348.6,624.1M333.0,646.5L348.6,632.8M333.0,655.1L348.6,641.4M333.0,663.8L348.6,650.0M333.0,672.4L348.6,658.7M333.0,681.0L348.6,667.3M333.0,689.7L348.6,676.0M333.0,698.3L348.6,684.6M333.0,707.0L348.6,693.2M333.0,715.6L348.6,701.9M333.0,724.2L348.6,710.5M333.0,732.9L348.6,719.1M333.0,741.5L348.6,727.8M342.8,741.5L348.6,736.4" stroke="#666" stroke-width="0.66" fill="none"/>
<rect x="333.00" y="581.70" width="15.60" height="159.80" fill="none" stroke="#111" stroke-width="1.2"/>
<text transform="translate(339.90,560.60) scale(1.06,1)" font-family='"Liberation Sans", Arial, Helvetica, sans-serif' font-size="13" text-anchor="middle" fill="#000" stroke="#000" stroke-width="0.1">b</text>
<line x1="360.20" y1="574.50" x2="360.20" y2="564.00" stroke="#111" stroke-width="1.6"/>
<line x1="355.20" y1="564.00" x2="365.20" y2="564.00" stroke="#111" stroke-width="1.5"/>
<rect x="352.40" y="574.50" width="15.60" height="167.00" fill="#fff"/>
<path d="M362.2,574.5L368.0,579.6M352.4,574.5L368.0,588.2M352.4,583.1L368.0,596.9M352.4,591.8L368.0,605.5M352.4,600.4L368.0,614.1M352.4,609.1L368.0,622.8M352.4,617.7L368.0,631.4M352.4,626.3L368.0,640.1M352.4,635.0L368.0,648.7M352.4,643.6L368.0,657.3M352.4,652.2L368.0,666.0M352.4,660.9L368.0,674.6M352.4,669.5L368.0,683.3M352.4,678.2L368.0,691.9M352.4,686.8L368.0,700.5M352.4,695.4L368.0,709.2M352.4,704.1L368.0,717.8M352.4,712.7L368.0,726.4M352.4,721.4L368.0,735.1M352.4,730.0L365.5,741.5M352.4,738.6L355.7,741.5" stroke="#1a1a1a" stroke-width="0.68" fill="none"/>
<path d="M367.1,574.5L368.0,575.3M357.3,574.5L368.0,583.9M352.4,578.8L368.0,592.5M352.4,587.5L368.0,601.2M352.4,596.1L368.0,609.8M352.4,604.7L368.0,618.5M352.4,613.4L368.0,627.1M352.4,622.0L368.0,635.7M352.4,630.7L368.0,644.4M352.4,639.3L368.0,653.0M352.4,647.9L368.0,661.7M352.4,656.6L368.0,670.3M352.4,665.2L368.0,678.9M352.4,673.8L368.0,687.6M352.4,682.5L368.0,696.2M352.4,691.1L368.0,704.8M352.4,699.8L368.0,713.5M352.4,708.4L368.0,722.1M352.4,717.0L368.0,730.8M352.4,725.7L368.0,739.4M352.4,734.3L360.6,741.5" stroke="#666" stroke-width="0.66" fill="none"/>
<rect x="352.40" y="574.50" width="15.60" height="167.00" fill="none" stroke="#111" stroke-width="1.2"/>
<text transform="translate(361.50,559.20) scale(1.06,1)" font-family='"Liberation Sans", Arial, Helvetica, sans-serif' font-size="13" text-anchor="middle" fill="#000" stroke="#000" stroke-width="0.1">b</text>
<line x1="394.10" y1="596.60" x2="394.10" y2="581.00" stroke="#111" stroke-width="1.6"/>
<line x1="389.10" y1="581.00" x2="399.10" y2="581.00" stroke="#111" stroke-width="1.5"/>
<rect x="386.30" y="596.60" width="15.60" height="144.90" fill="#fff"/>
<path d="M386.3,599.2L388.9,596.6M386.3,608.2L397.9,596.6M386.3,617.1L401.9,601.5M386.3,626.1L401.9,610.5M386.3,635.1L401.9,619.5M386.3,644.0L401.9,628.4M386.3,653.0L401.9,637.4M386.3,662.0L401.9,646.4M386.3,671.0L401.9,655.3M386.3,679.9L401.9,664.3M386.3,688.9L401.9,673.3M386.3,697.9L401.9,682.3M386.3,706.8L401.9,691.2M386.3,715.8L401.9,700.2M386.3,724.8L401.9,709.2M386.3,733.7L401.9,718.1M387.5,741.5L401.9,727.1M396.5,741.5L401.9,736.1M397.9,596.6L401.9,600.6M388.9,596.6L401.9,609.6M386.3,603.0L401.9,618.5M386.3,611.9L401.9,627.5M386.3,620.9L401.9,636.5M386.3,629.9L401.9,645.5M386.3,638.8L401.9,654.4M386.3,647.8L401.9,663.4M386.3,656.8L401.9,672.4M386.3,665.7L401.9,681.3M386.3,674.7L401.9,690.3M386.3,683.7L401.9,699.3M386.3,692.6L401.9,708.2M386.3,701.6L401.9,717.2M386.3,710.6L401.9,726.2M386.3,719.6L401.9,735.2M386.3,728.5L399.3,741.5M386.3,737.5L390.3,741.5" stroke="#333" stroke-width="0.66" fill="none"/>
<rect x="386.30" y="596.60" width="15.60" height="144.90" fill="none" stroke="#111" stroke-width="1.2"/>
<text transform="translate(392.90,575.90) scale(1.06,1)" font-family='"Liberation Sans", Arial, Helvetica, sans-serif' font-size="13" text-anchor="middle" fill="#000" stroke="#000" stroke-width="0.1">b</text>
<line x1="413.70" y1="590.30" x2="413.70" y2="575.90" stroke="#111" stroke-width="1.6"/>
<line x1="408.70" y1="575.90" x2="418.70" y2="575.90" stroke="#111" stroke-width="1.5"/>
<rect x="405.90" y="590.30" width="15.60" height="151.20" fill="#fff"/>
<path d="M405.9,598.9L415.7,590.3M405.9,607.6L421.5,593.8M405.9,616.2L421.5,602.5M405.9,624.9L421.5,611.1M405.9,633.5L421.5,619.8M405.9,642.1L421.5,628.4M405.9,650.8L421.5,637.0M405.9,659.4L421.5,645.7M405.9,668.0L421.5,654.3M405.9,676.7L421.5,663.0M405.9,685.3L421.5,671.6M405.9,694.0L421.5,680.2M405.9,702.6L421.5,688.9M405.9,711.2L421.5,697.5M405.9,719.9L421.5,706.1M405.9,728.5L421.5,714.8M405.9,737.2L421.5,723.4M410.8,741.5L421.5,732.1M420.6,741.5L421.5,740.7" stroke="#1a1a1a" stroke-width="0.68" fill="none"/>
<path d="M405.9,594.6L410.8,590.3M405.9,603.3L420.6,590.3M405.9,611.9L421.5,598.2M405.9,620.5L421.5,606.8M405.9,629.2L421.5,615.4M405.9,637.8L421.5,624.1M405.9,646.5L421.5,632.7M405.9,655.1L421.5,641.4M405.9,663.7L421.5,650.0M405.9,672.4L421.5,658.6M405.9,681.0L421.5,667.3M405.9,689.6L421.5,675.9M405.9,698.3L421.5,684.6M405.9,706.9L421.5,693.2M405.9,715.6L421.5,701.8M405.9,724.2L421.5,710.5M405.9,732.8L421.5,719.1M405.9,741.5L421.5,727.7M415.7,741.5L421.5,736.4" stroke="#666" stroke-width="0.66" fill="none"/>
<rect x="405.90" y="590.30" width="15.60" height="151.20" fill="none" stroke="#111" stroke-width="1.2"/>
<text transform="translate(412.40,569.10) scale(1.06,1)" font-family='"Liberation Sans", Arial, Helvetica, sans-serif' font-size="13" text-anchor="middle" fill="#000" stroke="#000" stroke-width="0.1">b</text>
<line x1="433.20" y1="586.60" x2="433.20" y2="573.30" stroke="#111" stroke-width="1.6"/>
<line x1="428.20" y1="573.30" x2="438.20" y2="573.30" stroke="#111" stroke-width="1.5"/>
<rect x="425.40" y="586.60" width="15.60" height="154.90" fill="#fff"/>
<path d="M435.2,586.6L441.0,591.7M425.4,586.6L441.0,600.3M425.4,595.2L441.0,609.0M425.4,603.9L441.0,617.6M425.4,612.5L441.0,626.2M425.4,621.2L441.0,634.9M425.4,629.8L441.0,643.5M425.4,638.4L441.0,652.2M425.4,647.1L441.0,660.8M425.4,655.7L441.0,669.4M425.4,664.3L441.0,678.1M425.4,673.0L441.0,686.7M425.4,681.6L441.0,695.4M425.4,690.3L441.0,704.0M425.4,698.9L441.0,712.6M425.4,707.5L441.0,721.3M425.4,716.2L441.0,729.9M425.4,724.8L441.0,738.5M425.4,733.5L434.5,741.5" stroke="#1a1a1a" stroke-width="0.68" fill="none"/>
<path d="M440.1,586.6L441.0,587.4M430.3,586.6L441.0,596.0M425.4,590.9L441.0,604.6M425.4,599.6L441.0,613.3M425.4,608.2L441.0,621.9M425.4,616.8L441.0,630.6M425.4,625.5L441.0,639.2M425.4,634.1L441.0,647.8M425.4,642.8L441.0,656.5M425.4,651.4L441.0,665.1M425.4,660.0L441.0,673.8M425.4,668.7L441.0,682.4M425.4,677.3L441.0,691.0M425.4,685.9L441.0,699.7M425.4,694.6L441.0,708.3M425.4,703.2L441.0,716.9M425.4,711.9L441.0,725.6M425.4,720.5L441.0,734.2M425.4,729.1L439.5,741.5M425.4,737.8L429.6,741.5" stroke="#666" stroke-width="0.66" fill="none"/>
<rect x="425.40" y="586.60" width="15.60" height="154.90" fill="none" stroke="#111" stroke-width="1.2"/>
<text transform="translate(435.40,566.00) scale(1.06,1)" font-family='"Liberation Sans", Arial, Helvetica, sans-serif' font-size="13" text-anchor="middle" fill="#000" stroke="#000" stroke-width="0.1">b</text>
<line x1="48.95" y1="424.60" x2="48.95" y2="742.20" stroke="#000" stroke-width="1.7"/>
<line x1="48.25" y1="741.50" x2="487.7" y2="741.50" stroke="#000" stroke-width="1.5"/>
<line x1="43.55" y1="741.50" x2="48.95" y2="741.50" stroke="#000" stroke-width="1.4"/>
<text x="38.5" y="745.65" font-family='"Liberation Serif", "Times New Roman", Times, serif' font-size="12.8" text-anchor="end" fill="#000">0</text>
<line x1="43.55" y1="688.80" x2="48.95" y2="688.80" stroke="#000" stroke-width="1.4"/>
<text x="38.5" y="692.95" font-family='"Liberation Serif", "Times New Roman", Times, serif' font-size="12.8" text-anchor="end" fill="#000">20</text>
<line x1="43.55" y1="636.10" x2="48.95" y2="636.10" stroke="#000" stroke-width="1.4"/>
<text x="38.5" y="640.25" font-family='"Liberation Serif", "Times New Roman", Times, serif' font-size="12.8" text-anchor="end" fill="#000">40</text>
<line x1="43.55" y1="583.40" x2="48.95" y2="583.40" stroke="#000" stroke-width="1.4"/>
<text x="38.5" y="587.55" font-family='"Liberation Serif", "Times New Roman", Times, serif' font-size="12.8" text-anchor="end" fill="#000">60</text>
<line x1="43.55" y1="530.70" x2="48.95" y2="530.70" stroke="#000" stroke-width="1.4"/>
<text x="38.5" y="534.85" font-family='"Liberation Serif", "Times New Roman", Times, serif' font-size="12.8" text-anchor="end" fill="#000">80</text>
<line x1="43.55" y1="478.00" x2="48.95" y2="478.00" stroke="#000" stroke-width="1.4"/>
<text x="38.5" y="482.15" font-family='"Liberation Serif", "Times New Roman", Times, serif' font-size="12.8" text-anchor="end" fill="#000">100</text>
<line x1="43.55" y1="425.30" x2="48.95" y2="425.30" stroke="#000" stroke-width="1.4"/>
<text x="38.5" y="429.45" font-family='"Liberation Serif", "Times New Roman", Times, serif' font-size="12.8" text-anchor="end" fill="#000">120</text>
<text transform="translate(11.5,572.7) rotate(-90)" font-family='"Liberation Serif", "Times New Roman", Times, serif' font-size="14" text-anchor="middle" letter-spacing="0.28" fill="#111">% of control</text>
<text transform="translate(76.5,423.9) scale(1,1)" font-family='"Liberation Sans", Arial, Helvetica, sans-serif' font-size="19.8" fill="#000" stroke="#000" stroke-width="0.35">B</text>
<text x="62.00" y="764.20" font-family='"Liberation Serif", "Times New Roman", Times, serif' font-size="12.3" fill="#111" >(-)Menadione</text>
<text x="176.70" y="763.50" font-family='"Liberation Serif", "Times New Roman", Times, serif' font-size="12.7" fill="#111" >Vehicle</text>
<text x="265.40" y="763.00" font-family='"Liberation Serif", "Times New Roman", Times, serif' font-size="12.3" fill="#111" >WV</text>
<text x="336.50" y="763.30" font-family='"Liberation Serif", "Times New Roman", Times, serif' font-size="12.3" fill="#111" >HL-1</text>
<text x="412.60" y="763.40" font-family='"Liberation Serif", "Times New Roman", Times, serif' font-size="12.3" fill="#111" >HL-2</text>
<polyline points="174.5,773.5 174.5,783.5 242.4,783.5" fill="none" stroke="#222" stroke-width="1.1"/>
<polyline points="376.3,783.5 445.3,783.5 445.3,773.5" fill="none" stroke="#222" stroke-width="1.1"/>
<text x="254.8" y="786.6" font-family='"Liberation Sans", Arial, Helvetica, sans-serif' font-size="12" fill="#111">Menadione (50 µM)</text>
<rect x="343.7" y="455.4" width="27.7" height="7.9" fill="#fff"/>
<path d="M343.7,463.3L351.6,455.4M352.7,463.3L360.6,455.4M361.6,463.3L369.5,455.4M370.6,463.3L371.4,462.5M363.3,455.4L371.2,463.3M354.4,455.4L362.3,463.3M345.4,455.4L353.3,463.3M343.7,462.7L344.3,463.3" stroke="#333" stroke-width="0.66" fill="none"/>
<rect x="343.7" y="455.4" width="27.7" height="7.9" fill="none" stroke="#111" stroke-width="1.25"/>
<text transform="translate(378.9,463.5) scale(1.075,1)" font-family='"Liberation Sans", Arial, Helvetica, sans-serif' font-size="11.2" fill="#000" stroke="#000" stroke-width="0.1">50 µg/ml</text>
<rect x="343.7" y="471.7" width="27.7" height="8.8" fill="#fff"/>
<path d="M343.7,480.3L353.5,471.7M353.3,480.5L363.3,471.7M363.1,480.5L371.4,473.2" stroke="#1a1a1a" stroke-width="0.68" fill="none"/>
<path d="M343.7,476.0L348.6,471.7M348.4,480.5L358.4,471.7M358.2,480.5L368.2,471.7M368.1,480.5L371.4,477.6" stroke="#666" stroke-width="0.66" fill="none"/>
<rect x="343.7" y="471.7" width="27.7" height="8.8" fill="none" stroke="#111" stroke-width="1.25"/>
<text transform="translate(378.9,481) scale(1.075,1)" font-family='"Liberation Sans", Arial, Helvetica, sans-serif' font-size="11.2" fill="#000" stroke="#000" stroke-width="0.1">100 µg/ml</text>
<rect x="343.7" y="488.8" width="27.7" height="8.7" fill="#fff"/>
<path d="M363.3,488.8L371.4,495.9M353.5,488.8L363.4,497.5M343.7,488.8L353.6,497.5" stroke="#1a1a1a" stroke-width="0.68" fill="none"/>
<path d="M368.2,488.8L371.4,491.6M358.4,488.8L368.3,497.5M348.6,488.8L358.5,497.5M343.7,493.1L348.7,497.5" stroke="#666" stroke-width="0.66" fill="none"/>
<rect x="343.7" y="488.8" width="27.7" height="8.7" fill="none" stroke="#111" stroke-width="1.25"/>
<text transform="translate(378.9,498.1) scale(1.075,1)" font-family='"Liberation Sans", Arial, Helvetica, sans-serif' font-size="11.2" fill="#000" stroke="#000" stroke-width="0.1">200 µg/ml</text>
</svg>
</body></html>
